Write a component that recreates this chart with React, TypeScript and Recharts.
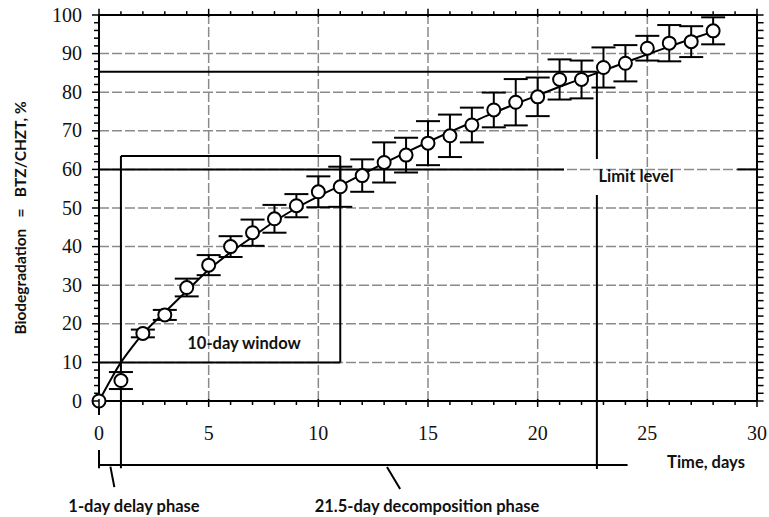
import React from 'react';
import {
  ComposedChart,
  Line,
  Scatter,
  ErrorBar,
  XAxis,
  YAxis,
  ReferenceLine,
} from 'recharts';

// ---- data ----
const days = [0, 1, 2, 3, 4, 5, 6, 7, 8, 9, 10, 11, 12, 13, 14, 15, 16, 17, 18, 19, 20, 21, 22, 23, 24, 25, 26, 27, 28];
const biodegradation = [0, 5.3, 17.5, 22.3, 29.4, 35.2, 40.0, 43.6, 47.2, 50.6, 54.2, 55.5, 58.4, 61.8, 63.7, 66.8, 68.7, 71.5, 75.4, 77.4, 78.8, 83.3, 83.3, 86.4, 87.5, 91.4, 92.7, 93.1, 95.9];
const errors = [0, 2.2, 1.0, 1.3, 2.3, 2.6, 2.7, 3.4, 3.6, 3.0, 4.0, 5.2, 4.2, 5.2, 4.5, 5.7, 5.5, 4.5, 4.5, 6.0, 5.0, 5.2, 4.9, 5.2, 4.7, 3.2, 4.7, 4.0, 3.5];

const fitDays = [0, 0.5, 1, 1.5, 2, 3, 4, 5, 6, 7, 8, 9, 10, 11, 12, 13, 14, 15, 16, 17, 18, 19, 20, 21, 22, 23, 24, 25, 26, 27, 28];
const fitValues = [0, 5.2, 10, 13.9, 17.4, 23, 28.5, 34, 38.5, 42.5, 46.5, 50, 53, 55.8, 58.7, 61.6, 64.4, 67.1, 69.7, 72.2, 74.7, 77, 79.2, 81.4, 83.5, 85.6, 87.7, 89.8, 91.8, 93.8, 95.7];

const xGridValues = [5, 10, 15, 20, 25];
const yGridValues = [10, 20, 30, 40, 50, 60, 70, 80, 90];
const xMinorTicks = [0, 1, 2, 3, 4, 5, 6, 7, 8, 9, 10, 11, 12, 13, 14, 15, 16, 17, 18, 19, 20, 21, 22, 23, 24, 25, 26, 27, 28, 29, 30];
const yMinorTicks = [0, 2, 4, 6, 8, 10, 12, 14, 16, 18, 20, 22, 24, 26, 28, 30, 32, 34, 36, 38, 40, 42, 44, 46, 48, 50, 52, 54, 56, 58, 60, 62, 64, 66, 68, 70, 72, 74, 76, 78, 80, 82, 84, 86, 88, 90, 92, 94, 96, 98, 100];

const X_MAX = 30;
const Y_MAX = 100;

// annotation levels (data units)
const limitLevel = 60;
const upperLevel = 85.3;
const windowStart = 1;
const windowEnd = 11;
const windowTop = 63.5;
const windowBottom = 10;
const phaseEnd = 22.7;
const phaseLineY = -16.6;
const phaseLineEnd = 24.1;

const points = days.map((d, i) => ({ x: d, y: biodegradation[i], err: errors[i] }));
const fit = fitDays.map((d, i) => ({ x: d, y: fitValues[i] }));

const serif = "'Liberation Serif', 'DejaVu Serif', serif";
const sans = "Lato, 'Open Sans', sans-serif";
const ink = '#111';

const BottomTick = (props: any) => {
  const { x, y, payload } = props;
  const v = payload.value;
  const major = v % 5 === 0;
  return (
    <g>
      <line x1={x} x2={x} y1={y - (major ? 2 : 0)} y2={y + (major ? 6 : 4)} stroke="#000" strokeWidth={1.5} />
      {major && (
        <text x={x} y={y + 32} dy="0.33em" textAnchor="middle" fontFamily={serif} fontSize={20} fill={ink}>
          {v}
        </text>
      )}
    </g>
  );
};

const LeftTick = (props: any) => {
  const { x, y, payload } = props;
  const v = payload.value;
  const major = v % 10 === 0;
  return (
    <g>
      <line x1={x} x2={x - (major ? 7 : 5)} y1={y} y2={y} stroke="#000" strokeWidth={1.5} />
      {major && (
        <text x={x - 17} y={y} dy="0.33em" textAnchor="end" fontFamily={serif} fontSize={20} fill={ink}>
          {v}
        </text>
      )}
    </g>
  );
};

const OpenCircle = (props: any) => {
  const { cx, cy } = props;
  return <circle cx={cx} cy={cy} r={6.5} fill="#fff" stroke="#000" strokeWidth={2} />;
};

const seg = (a: [number, number], b: [number, number], key: string, w = 2, extra: any = {}) => (
  <ReferenceLine
    key={key}
    ifOverflow="visible"
    stroke="#000"
    strokeWidth={w}
    segment={[
      { x: a[0], y: a[1] },
      { x: b[0], y: b[1] },
    ]}
    {...extra}
  />
);

const gridStyle = { stroke: '#8a8a8a', strokeDasharray: '10 3' };

const labelStyle: React.CSSProperties = {
  position: 'absolute',
  fontFamily: sans,
  fontWeight: 700,
  fontSize: 16.5,
  color: ink,
  whiteSpace: 'pre',
  transform: 'translate(-50%, -50%)',
  lineHeight: 1,
};

export default function App() {
  return (
    <div style={{ position: 'absolute', left: 0, top: 0, width: 769, height: 517, background: '#fff' }}>
      <ComposedChart width={769} height={517} margin={{ top: 15, right: 12, bottom: 86, left: 0 }}>
        <XAxis
          type="number"
          dataKey="x"
          domain={[0, X_MAX]}
          ticks={xMinorTicks}
          interval={0}
          height={30}
          tickSize={0}
          tickMargin={0}
          tickLine={false}
          axisLine={{ stroke: '#000', strokeWidth: 2 }}
          tick={<BottomTick />}
        />
        <YAxis
          type="number"
          dataKey="y"
          domain={[0, Y_MAX]}
          ticks={yMinorTicks}
          interval={0}
          width={99}
          tickSize={0}
          tickMargin={0}
          tickLine={false}
          axisLine={{ stroke: '#000', strokeWidth: 2 }}
          tick={<LeftTick />}
        />

        {/* dashed grid */}
        {yGridValues.map((v) => (
          <ReferenceLine key={`gy${v}`} y={v} strokeWidth={1.5} {...gridStyle} />
        ))}
        {xGridValues.map((v) => (
          <ReferenceLine key={`gx${v}`} x={v} strokeWidth={1.5} {...gridStyle} />
        ))}

        {/* top and right frame with ticks */}
        {seg([0, Y_MAX], [X_MAX, Y_MAX], 'topframe')}
        {seg([X_MAX, 0], [X_MAX, Y_MAX], 'rightframe')}
        {xMinorTicks.map((v) =>
          seg([v, v % 5 === 0 ? Y_MAX - 0.5 : Y_MAX], [v, v % 5 === 0 ? Y_MAX + 1.6 : Y_MAX + 1.0], `tt${v}`, 1.5)
        )}
        {yMinorTicks.map((v) => seg([X_MAX, v], [X_MAX + 0.3, v], `rt${v}`, 1.5))}

        {/* limit level line with a gap for its label */}
        {seg([0, limitLevel], [21.2, limitLevel], 'lim1')}
        {seg([29.1, limitLevel], [X_MAX, limitLevel], 'lim2')}
        {/* upper level line */}
        {seg([0, upperLevel], [phaseEnd, upperLevel], 'upper')}
        {/* end of decomposition phase */}
        {seg([phaseEnd, upperLevel], [phaseEnd, 62.7], 'pe1')}
        {seg([phaseEnd, 53.4], [phaseEnd, -17.6], 'pe2')}
        {/* 10-day window */}
        {seg([windowStart, windowTop], [windowEnd, windowTop], 'wt')}
        {seg([windowEnd, windowTop], [windowEnd, windowBottom], 'wr')}
        {seg([0, windowBottom], [windowEnd, windowBottom], 'wb')}
        {seg([windowStart, windowTop], [windowStart, -17.4], 'wl')}
        {/* phase scale below the axis */}
        {seg([0, phaseLineY], [phaseLineEnd, phaseLineY], 'pl')}
        {seg([0, 0], [0, -3.6], 'z1')}
        {seg([0, -12.7], [0, -17.4], 'z2')}
        {seg([0.52, -17.0], [0.7, -22.3], 'lead1')}
        {seg([13.13, -17.1], [13.73, -22.8], 'lead2')}

        <Line
          data={fit}
          dataKey="y"
          type="monotone"
          stroke="#000"
          strokeWidth={2}
          dot={false}
          activeDot={false}
          isAnimationActive={false}
        />
        <Scatter data={points} dataKey="y" shape={<OpenCircle />} isAnimationActive={false}>
          <ErrorBar dataKey="err" direction="y" width={12} stroke="#000" strokeWidth={2} isAnimationActive={false} />
        </Scatter>
      </ComposedChart>

      <div style={{ ...labelStyle, left: 244, top: 343 }}>10-day window</div>
      <div style={{ ...labelStyle, left: 636, top: 176 }}>Limit level</div>
      <div style={{ ...labelStyle, left: 134, top: 506 }}>1-day delay phase</div>
      <div style={{ ...labelStyle, left: 427, top: 506 }}>21.5-day decomposition phase</div>
      <div style={{ ...labelStyle, left: 706, top: 462 }}>Time, days</div>
      <div
        style={{
          ...labelStyle,
          fontSize: 15.5,
          left: 21,
          top: 218,
          transform: 'translate(-50%, -50%) rotate(-90deg)',
        }}
      >
        {'Biodegradation   =   BTZ/CHZT, %'}
      </div>
    </div>
  );
}
